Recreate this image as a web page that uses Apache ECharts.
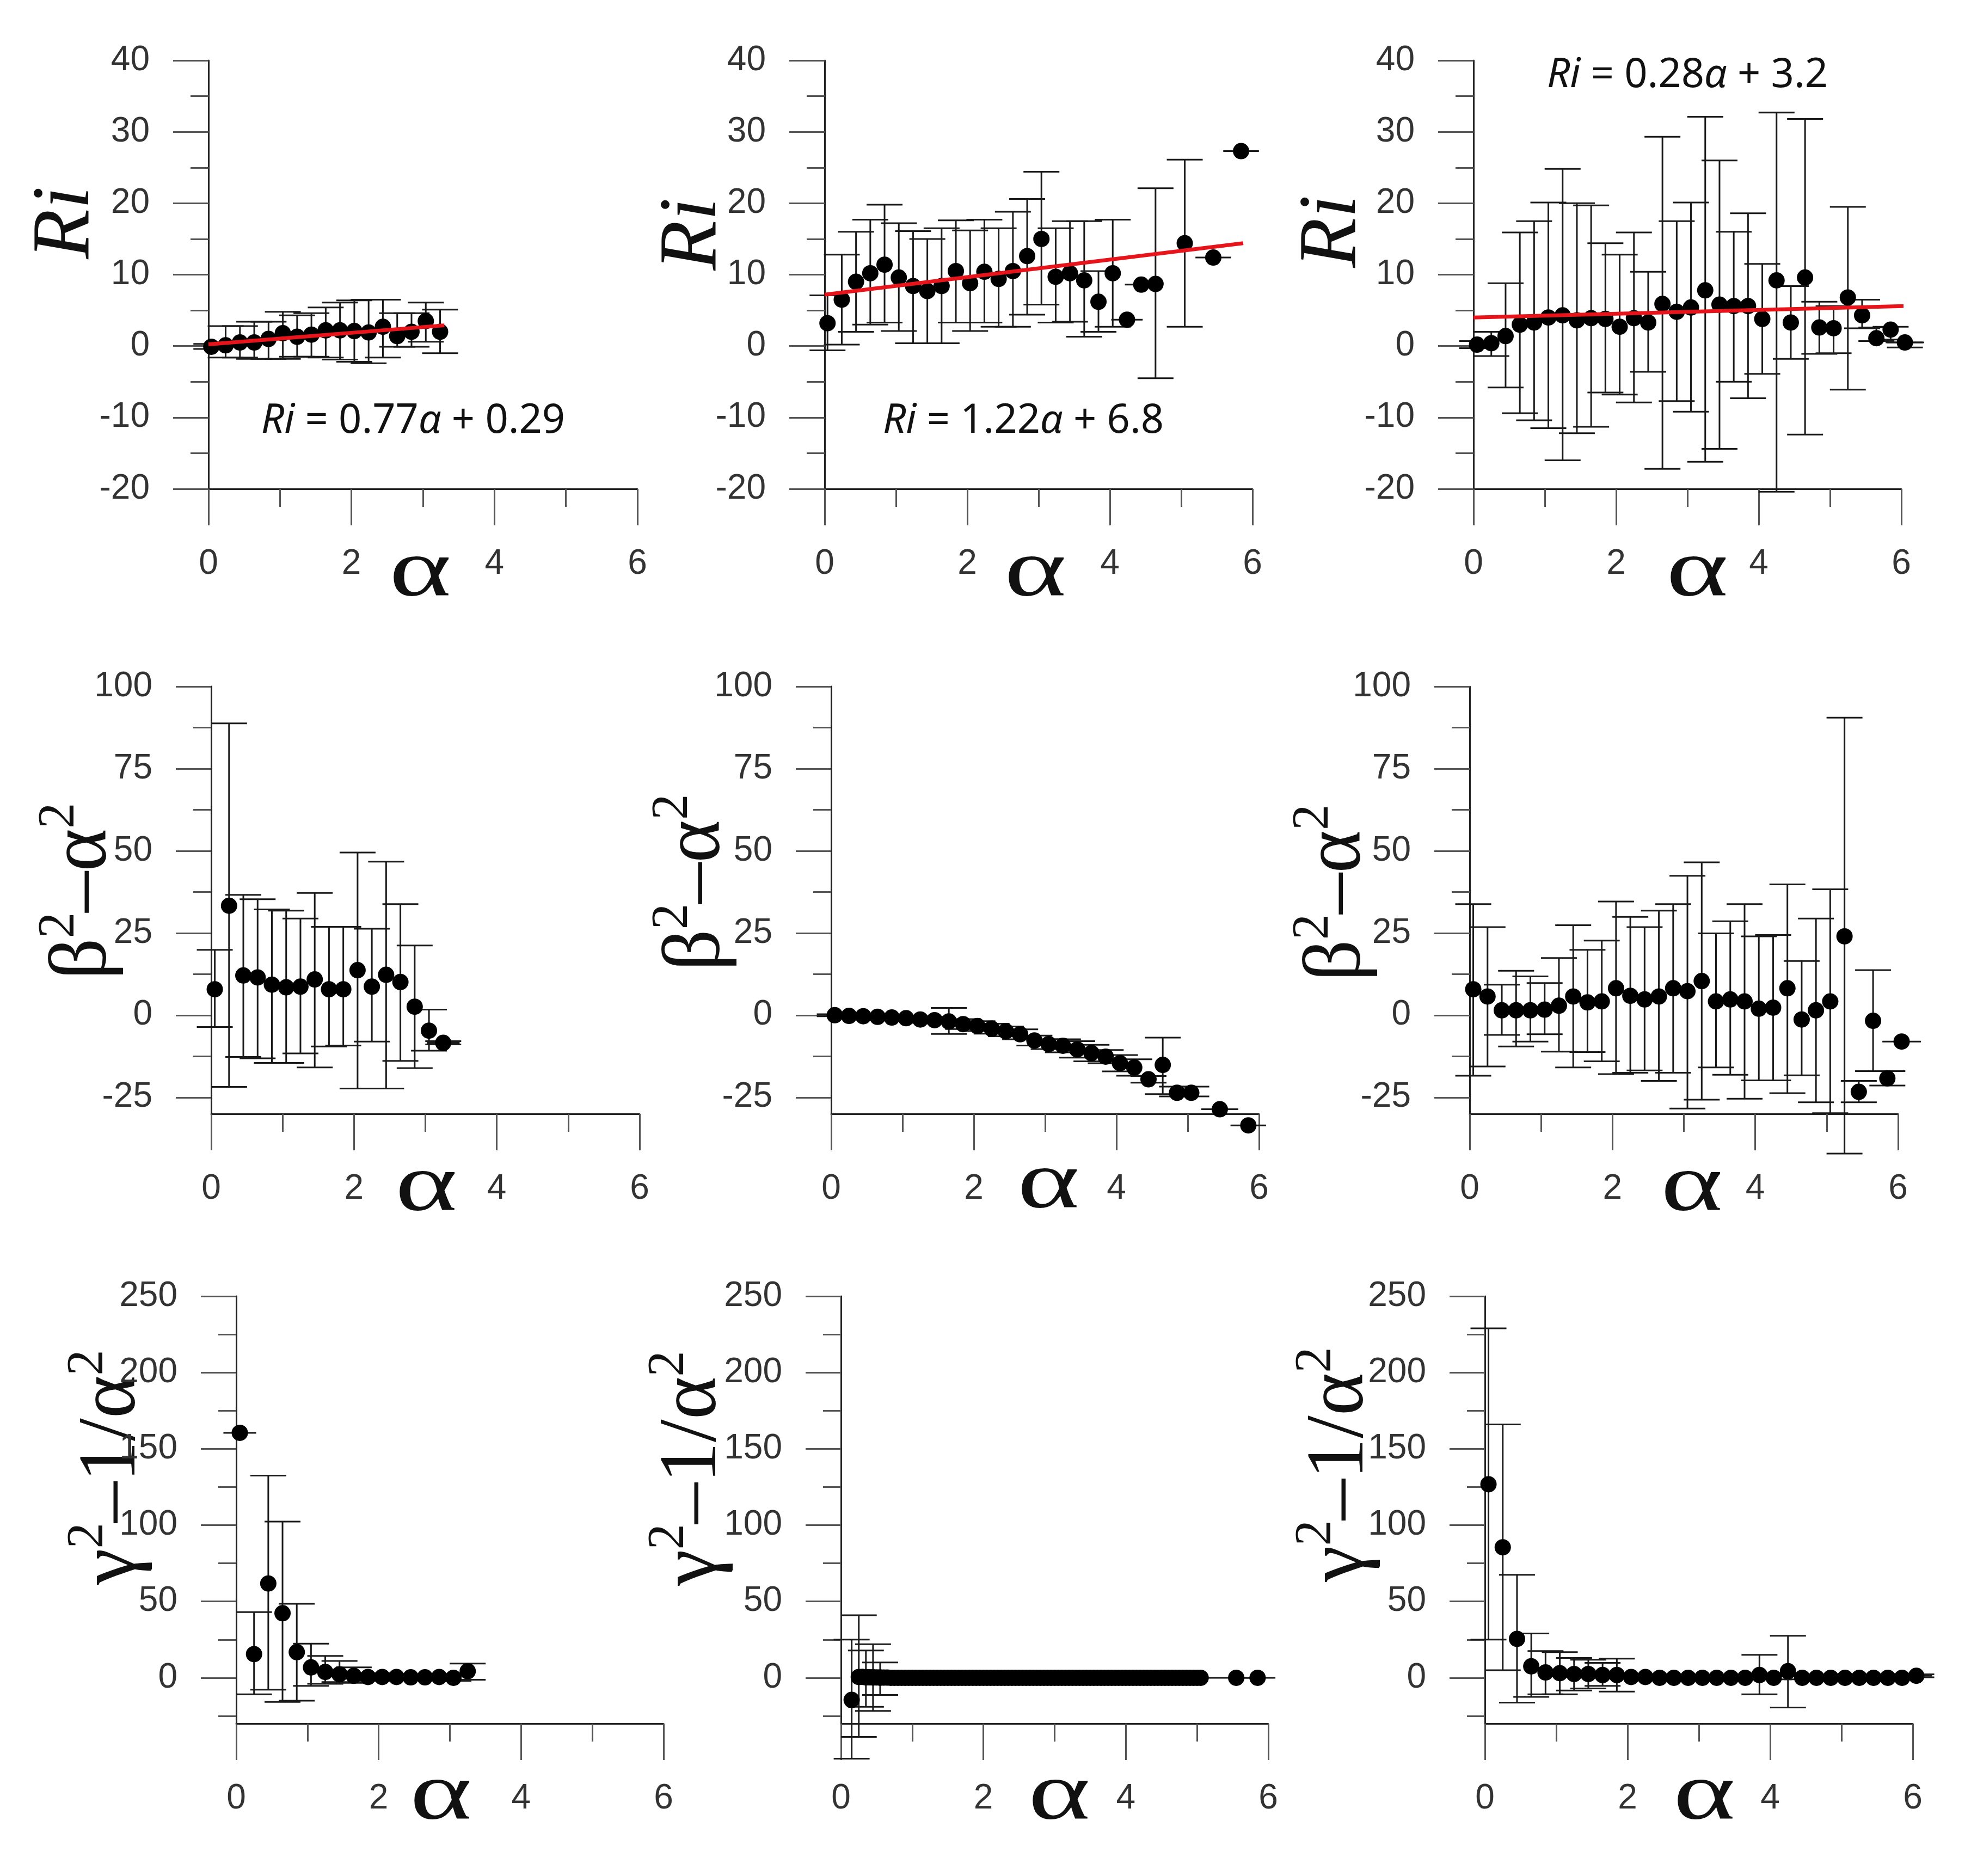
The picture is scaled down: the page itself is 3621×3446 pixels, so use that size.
<!DOCTYPE html>
<html><head><meta charset="utf-8">
<script src="https://cdn.jsdelivr.net/npm/echarts@6/dist/echarts.min.js"></script>
<style>html,body{margin:0;padding:0;background:#fff}#c{width:3621px;height:3446px}</style>
</head><body><div id="c"></div>
<script>
// ---------- tick values ----------
const xMajorTicks = [0, 2, 4, 6];
const row1Major = [-20, -10, 0, 10, 20, 30, 40];
const row1Minor = [-15, -5, 5, 15, 25, 35];
const row2Major = [-25, 0, 25, 50, 75, 100];
const row2Minor = [-12.5, 12.5, 37.5, 62.5, 87.5];
const row3Major = [0, 50, 100, 150, 200, 250];
const row3Minor = [-25, 25, 75, 125, 175, 225];

// ---------- equations ----------
const eqSlope = ['0.77', '1.22', '0.28'];
const eqIntercept = ['0.29', '6.8', '3.2'];

// ---------- row 1 : Ri ----------
const p11X  = [0.04,0.24,0.44,0.64,0.84,1.04,1.24,1.44,1.64,1.84,2.04,2.24,2.44,2.64,2.84,3.04,3.24];
const p11Y  = [-0.1,0.1,0.5,0.5,1.0,1.8,1.3,1.6,2.2,2.2,2.1,1.9,2.7,1.4,2.0,3.5,2.0];
const p11Hi = [0.3,2.8,2.8,3.4,3.4,4.8,4.3,4.6,5.4,6.1,6.4,6.5,6.5,4.6,4.6,6.1,5.1];
const p11Lo = [-0.4,-1.6,-1.6,-1.8,-1.8,-1.8,-1.5,-1.5,-1.6,-1.9,-2.2,-2.4,-1.6,-0.1,-0.1,0.6,-1.0];
const p11Xe = [0,0,0,0,0,0,0,0,0,0,0,0,0,0,0,0,0];
const p11FitX = [0, 3.3];
const p11FitY = [0.25, 2.9];

const p12X  = [0.04,0.24,0.44,0.64,0.84,1.04,1.24,1.44,1.64,1.84,2.04,2.24,2.44,2.64,2.84,3.04,3.24,3.44,3.64,3.84,4.04,4.24,4.44,4.64,5.05,5.45,5.84];
const p12Y  = [3.2,6.5,9.0,10.2,11.4,9.6,8.4,7.7,8.4,10.5,8.8,10.4,9.4,10.5,12.6,15.0,9.7,10.2,9.2,6.2,10.2,3.7,8.6,8.7,14.4,12.4,27.3];
const p12Hi = [7.1,12.8,16.0,17.7,19.8,17.2,16.1,15.0,16.5,17.6,16.2,17.7,16.5,18.8,20.6,24.4,16.5,17.5,17.5,10.5,17.7,3.7,8.6,22.1,26.1,12.4,27.3];
const p12Lo = [-0.6,0.2,2.0,3.0,3.3,2.1,0.4,0.4,0.4,3.3,2.1,3.3,2.7,2.7,4.4,5.8,3.3,3.4,1.3,2.0,2.7,3.7,8.6,-4.5,2.7,12.4,27.3];
const p12Xe = [0,0,0,0,0,0,0,0,0,0,0,0,0,0,0,0,0,0,0,0,0,0.22,0.23,0,0,0.25,0.25];
const p12FitX = [0, 5.87];
const p12FitY = [7.2, 14.4];

const p13X  = [0.05,0.25,0.45,0.65,0.85,1.05,1.25,1.45,1.65,1.85,2.05,2.25,2.45,2.65,2.85,3.05,3.25,3.45,3.65,3.85,4.05,4.25,4.45,4.65,4.85,5.05,5.25,5.45,5.65,5.85,6.05];
const p13Y  = [0.2,0.4,1.4,3.0,3.3,4.0,4.3,3.6,3.9,3.8,2.7,3.9,3.3,5.9,4.8,5.4,7.8,5.8,5.6,5.6,3.8,9.2,3.3,9.6,2.6,2.5,6.8,4.3,1.1,2.3,0.5];
const p13Hi = [0.7,2.0,8.8,15.9,17.5,20.1,24.8,20.0,19.7,14.4,12.8,15.9,10.4,29.3,17.5,20.1,32.1,26.0,16.0,18.6,11.5,32.7,8.4,31.8,6.2,5.6,19.5,6.5,2.6,2.7,0.5];
const p13Lo = [-0.3,-1.4,-5.8,-9.4,-10.4,-11.5,-16.0,-12.2,-11.3,-6.5,-6.8,-7.9,-3.6,-17.2,-7.7,-9.2,-16.2,-14.4,-5.0,-7.3,-3.9,-20.4,-1.8,-12.4,-1.1,-1.0,-6.1,2.5,0.7,0.9,-0.2];
const p13Xe = [0,0,0,0,0,0,0,0,0,0,0,0,0,0,0,0,0,0,0,0,0,0,0,0,0,0,0,0,0,0,0.27];
const p13FitX = [0, 6.05];
const p13FitY = [4.0, 5.6];

// ---------- row 2 : beta^2 - alpha^2 ----------
const p21X  = [0.05,0.25,0.45,0.65,0.85,1.05,1.25,1.45,1.65,1.85,2.05,2.25,2.45,2.65,2.85,3.05,3.25];
const p21Y  = [7.9,33.3,12.1,11.5,9.3,8.5,8.7,10.9,7.9,7.9,13.7,8.7,12.3,10.1,2.6,-4.7,-8.4];
const p21Hi = [19.9,88.8,36.6,35.3,32.2,31.8,29.4,37.2,26.9,26.9,49.5,26.3,46.7,33.8,21.2,1.7,-7.9];
const p21Lo = [-3.6,-21.8,-12.7,-13.1,-14.5,-14.5,-11.6,-15.9,-9.5,-9.2,-22.3,-8.0,-22.3,-13.9,-16.1,-10.8,-8.9];
const p21Xe = [0,0,0,0,0,0,0,0,0,0,0,0,0,0,0,0,0.23];

const p22X  = [0.05,0.25,0.45,0.65,0.85,1.05,1.25,1.45,1.65,1.85,2.05,2.25,2.45,2.65,2.85,3.05,3.25,3.45,3.65,3.85,4.05,4.25,4.45,4.65,4.85,5.05,5.45,5.85];
const p22Y  = [0,-0.2,-0.3,-0.5,-0.7,-0.9,-1.3,-1.5,-1.9,-2.7,-3.3,-4.1,-4.9,-5.8,-7.7,-8.8,-9.3,-10.4,-11.5,-12.6,-14.6,-15.9,-19.5,-15.1,-23.6,-23.6,-28.6,-33.5];
const p22Hi = [0.3,0.1,0,-0.2,-0.4,-0.6,-0.3,-0.5,2.2,-1.2,-1.8,-2.6,-3.4,-4.3,-6.2,-7.3,-7.3,-7.9,-9.0,-10.6,-12.1,-13.4,-18.5,-6.8,-21.7,-21.7,-28.6,-33.5];
const p22Lo = [-0.3,-0.5,-0.6,-0.8,-1.0,-1.2,-2.3,-2.5,-5.7,-4.2,-4.8,-5.6,-6.4,-7.3,-9.2,-10.3,-11.3,-12.9,-14.0,-14.6,-17.1,-18.4,-20.5,-24.0,-24.7,-24.7,-28.6,-33.5];
const p22Xe = [0,0,0,0,0,0,0,0,0,0,0,0,0,0,0,0,0,0,0,0,0,0,0,0,0,0,0.26,0.25];

const p23X  = [0.05,0.25,0.45,0.65,0.85,1.05,1.25,1.45,1.65,1.85,2.05,2.25,2.45,2.65,2.85,3.05,3.25,3.45,3.65,3.85,4.05,4.25,4.45,4.65,4.85,5.05,5.25,5.45,5.65,5.85,6.05];
const p23Y  = [7.9,5.7,1.5,1.5,1.5,1.7,2.9,5.7,3.9,4.2,8.2,5.9,4.8,5.7,8.2,7.3,10.4,4.2,4.8,4.2,2.0,2.3,8.2,-1.3,1.5,4.2,24.0,-23.3,-1.7,-19.2,-8.0];
const p23Hi = [33.8,26.8,9.3,13.5,11.8,9.8,17.4,27.4,19.9,22.7,34.6,29.9,26.8,31.8,33.8,42.4,46.5,24.9,28.6,33.8,24.0,24.4,39.8,16.5,29.4,38.3,90.5,-20.0,13.7,-17.0,-8.0];
const p23Lo = [-18.4,-15.6,-6.0,-9.5,-8.0,-5.8,-11.1,-15.9,-11.2,-14.0,-17.9,-17.5,-16.8,-20.0,-17.5,-28.4,-25.7,-15.9,-18.1,-25.4,-19.8,-19.8,-23.7,-18.3,-26.5,-29.8,-42.1,-26.5,-17.0,-21.4,-8.0];
const p23Xe = [0,0,0,0,0,0,0,0,0,0,0,0,0,0,0,0,0,0,0,0,0,0,0,0,0,0,0,0,0,0,0.27];

// ---------- row 3 : gamma^2 - 1/alpha^2 ----------
const p31X  = [0.05,0.25,0.45,0.65,0.85,1.05,1.25,1.45,1.65,1.85,2.05,2.25,2.45,2.65,2.85,3.05,3.25];
const p31Y  = [160.5,15.5,61.8,42.3,16.8,6.8,3.8,2.3,1.3,0.5,0.5,0.5,0.3,0.3,0.5,0,4.3];
const p31Hi = [160.5,43,132.5,102.3,48.5,22.3,14.3,11,6.8,3,3,2.5,2,2,2.5,2,9.3];
const p31Lo = [160.5,-10.8,-7.8,-15.8,-15,-5.3,-4,-2.8,-3.3,-2,-2,-1.5,-1.5,-1.5,-1.5,-2,-1.3];
const p31Xe = [0.23,0,0,0,0,0,0,0,0,0,0,0,0,0,0,0,0];

const p32X  = [0.15,0.25,0.35,0.45,0.55,5.55,5.85];
const p32Y  = [-14.5,0.5,0.3,0.2,0.1,0,0];
const p32Hi = [25,41,17.9,22,10,0,0];
const p32Lo = [-53,-38.7,-19,-21.7,-11.3,0,0];
const p32Xe = [0,0,0,0,0,0.4,0.25];
const p32BandX = [0.30,0.35,0.40,0.45,0.50,0.55,0.60,0.65,0.70,0.75,0.80,0.85,0.90,0.95,1.00,1.05,1.10,1.15,1.20,1.25,1.30,1.35,1.40,1.45,1.50,1.55,1.60,1.65,1.70,1.75,1.80,1.85,1.90,1.95,2.00,2.05,2.10,2.15,2.20,2.25,2.30,2.35,2.40,2.45,2.50,2.55,2.60,2.65,2.70,2.75,2.80,2.85,2.90,2.95,3.00,3.05,3.10,3.15,3.20,3.25,3.30,3.35,3.40,3.45,3.50,3.55,3.60,3.65,3.70,3.75,3.80,3.85,3.90,3.95,4.00,4.05,4.10,4.15,4.20,4.25,4.30,4.35,4.40,4.45,4.50,4.55,4.60,4.65,4.70,4.75,4.80,4.85,4.90,4.95,5.00,5.05];
const p32BandY = [0.6,0.4,0.3,0.2,0.2,0.1,0.1,0.1,0,0,0,0,0,0,0,0,0,0,0,0,0,0,0,0,0,0,0,0,0,0,0,0,0,0,0,0,0,0,0,0,0,0,0,0,0,0,0,0,0,0,0,0,0,0,0,0,0,0,0,0,0,0,0,0,0,0,0,0,0,0,0,0,0,0,0,0,0,0,0,0,0,0,0,0,0,0,0,0,0,0,0,0,0,0,0,0];

const p33X  = [0.05,0.25,0.45,0.65,0.85,1.05,1.25,1.45,1.65,1.85,2.05,2.25,2.45,2.65,2.85,3.05,3.25,3.45,3.65,3.85,4.05,4.25,4.45,4.65,4.85,5.05,5.25,5.45,5.65,5.85,6.05];
const p33Y  = [126.8,85.5,25.5,7.5,3.5,3,2.5,2.5,1.8,1.8,0.5,0.5,0,0,0,0,0,0,0,1.8,0,4.3,0,0,0,0,0,0,0,0,1.3];
const p33Hi = [229,166,67.5,29,17.5,16.8,13,11.8,9.8,12.5,1.5,1.5,1,1,1,1,1,1,1,15,1,27.5,1,1,1,1,1,1,1,1,2.3];
const p33Lo = [25,5,-16.3,-12.5,-10.8,-10.8,-8.3,-7,-5.3,-9,-0.5,-0.5,-1,-1,-1,-1,-1,-1,-1,-10.8,-1,-19.5,-1,-1,-1,-1,-1,-1,-1,-1,0.3];
const p33Xe = [0,0,0,0,0,0,0,0,0,0,0,0,0,0,0,0,0,0,0,0,0,0,0,0,0,0,0,0,0,0,0.22];

// ---------- layout ----------
const AX = '#222', TK = '#555', LBL = '#333', ERR = '#1a1a1a';
const panels = [
  {box:[383,111,788,787],  ymin:-20, ymax:40,  major:row1Major, minor:row1Minor, x:p11X, y:p11Y, hi:p11Hi, lo:p11Lo, xe:p11Xe, fitX:p11FitX, fitY:p11FitY},
  {box:[1515,111,786,787], ymin:-20, ymax:40,  major:row1Major, minor:row1Minor, x:p12X, y:p12Y, hi:p12Hi, lo:p12Lo, xe:p12Xe, fitX:p12FitX, fitY:p12FitY},
  {box:[2707,111,786,787], ymin:-20, ymax:40,  major:row1Major, minor:row1Minor, x:p13X, y:p13Y, hi:p13Hi, lo:p13Lo, xe:p13Xe, fitX:p13FitX, fitY:p13FitY},
  {box:[388,1261,787,785], ymin:-30, ymax:100, major:row2Major, minor:row2Minor, x:p21X, y:p21Y, hi:p21Hi, lo:p21Lo, xe:p21Xe},
  {box:[1527,1261,786,785],ymin:-30, ymax:100, major:row2Major, minor:row2Minor, x:p22X, y:p22Y, hi:p22Hi, lo:p22Lo, xe:p22Xe},
  {box:[2700,1261,787,785],ymin:-30, ymax:100, major:row2Major, minor:row2Minor, x:p23X, y:p23Y, hi:p23Hi, lo:p23Lo, xe:p23Xe},
  {box:[434,2381,785,785], ymin:-30, ymax:250, major:row3Major, minor:row3Minor, x:p31X, y:p31Y, hi:p31Hi, lo:p31Lo, xe:p31Xe},
  {box:[1545,2381,785,785],ymin:-30, ymax:250, major:row3Major, minor:row3Minor, x:p32X, y:p32Y, hi:p32Hi, lo:p32Lo, xe:p32Xe, bandX:p32BandX, bandY:p32BandY},
  {box:[2728,2381,786,785],ymin:-30, ymax:250, major:row3Major, minor:row3Minor, x:p33X, y:p33Y, hi:p33Hi, lo:p33Lo, xe:p33Xe}
];

const CAP = 33, DOT = 30;
function renderErr(params, api) {
  const x = api.value(0), y = api.value(1), lo = api.value(2), hi = api.value(3), xe = api.value(4);
  const st = {stroke: ERR, lineWidth: 3};
  const ch = [];
  if (!(hi === y && lo === y)) {
    const a = api.coord([x, hi]), b = api.coord([x, lo]);
    ch.push({type:'line', shape:{x1:a[0], y1:a[1], x2:b[0], y2:b[1]}, style:st});
    ch.push({type:'line', shape:{x1:a[0]-CAP, y1:a[1], x2:a[0]+CAP, y2:a[1]}, style:st});
    ch.push({type:'line', shape:{x1:b[0]-CAP, y1:b[1], x2:b[0]+CAP, y2:b[1]}, style:st});
  }
  if (xe > 0) {
    const c = api.coord([x - xe, y]), d = api.coord([x + xe, y]);
    ch.push({type:'line', shape:{x1:c[0], y1:c[1], x2:d[0], y2:d[1]}, style:st});
  }
  return {type:'group', children: ch};
}

const grids = [], xAxes = [], yAxes = [], series = [];
const lblStyle = {fontSize:64, fontFamily:'"Liberation Sans", Arial, sans-serif', color:LBL};
panels.forEach((p, i) => {
  const g = {left:p.box[0], top:p.box[1], width:p.box[2], height:p.box[3], containLabel:false, outerBoundsMode:'none'};
  grids.push(Object.assign({}, g), Object.assign({}, g));
  xAxes.push({
    type:'value', gridIndex:2*i, min:0, max:6, interval:2,
    axisLine:{onZero:false, lineStyle:{color:AX, width:3}},
    axisTick:{length:67, lineStyle:{color:TK, width:3}},
    minorTick:{show:true, splitNumber:2, length:33, lineStyle:{color:TK, width:3}},
    axisLabel:Object.assign({margin:106, showMinLabel:true, showMaxLabel:true}, lblStyle),
    splitLine:{show:false}, minorSplitLine:{show:false}
  });
  xAxes.push({type:'value', gridIndex:2*i+1, min:0, max:6, show:false});
  yAxes.push({
    type:'value', gridIndex:2*i, min:p.ymin, max:p.ymax,
    axisLine:{show:true, onZero:false, lineStyle:{color:AX, width:3}},
    axisTick:{show:true, customValues:p.major, length:65, lineStyle:{color:TK, width:3}},
    axisLabel:Object.assign({customValues:p.major, margin:108}, lblStyle),
    splitLine:{show:false}
  });
  yAxes.push({
    type:'value', gridIndex:2*i+1, min:p.ymin, max:p.ymax,
    axisLine:{show:false, onZero:false},
    axisTick:{show:true, customValues:p.minor, length:33, lineStyle:{color:TK, width:3}},
    axisLabel:{show:false}, splitLine:{show:false}
  });
  series.push({
    type:'custom', xAxisIndex:2*i, yAxisIndex:2*i, clip:false, z:2, silent:true,
    renderItem:renderErr, encode:{x:0, y:1},
    data:p.x.map((v, k) => [v, p.y[k], p.lo[k], p.hi[k], p.xe[k]])
  });
  if (p.bandX) {
    series.push({
      type:'scatter', xAxisIndex:2*i, yAxisIndex:2*i, symbolSize:DOT, z:3, silent:true,
      itemStyle:{color:'#000', opacity:1}, clip:false,
      data:p.bandX.map((v, k) => [v, p.bandY[k]])
    });
  }
  series.push({
    type:'scatter', xAxisIndex:2*i, yAxisIndex:2*i, symbolSize:DOT, z:4, silent:true,
    itemStyle:{color:'#000', opacity:1}, clip:false,
    data:p.x.map((v, k) => [v, p.y[k]])
  });
  if (p.fitX) {
    series.push({
      type:'line', xAxisIndex:2*i, yAxisIndex:2*i, symbol:'none', z:5, silent:true,
      lineStyle:{color:'#e8141b', width:7}, data:p.fitX.map((v, k) => [v, p.fitY[k]])
    });
  }
});

// ---------- text elements ----------
const mctx = document.createElement('canvas').getContext('2d');
function tw(t, font) { mctx.font = font; return mctx.measureText(t).width; }
function tokenLabel(cx, cy, rot, tokens, sx) {
  let total = 0;
  tokens.forEach(k => { k.w = tw(k.t, k.font); total += k.w; });
  let x = -total / 2;
  const children = tokens.map(k => {
    const el = {type:'text', x:x, y:k.dy || 0, style:{text:k.t, font:k.font, fill:'#111',
      textAlign:'left', textVerticalAlign:'middle', align:'left', verticalAlign:'middle'}};
    x += k.w;
    return el;
  });
  return {type:'group', x:cx, y:cy, rotation:rot, scaleX:sx || 1, children:children};
}
const SERIF = '"Liberation Serif", "Times New Roman", serif';
const big = '150px ' + SERIF, sup = '95px ' + SERIF;
const graphics = [];
// Ri titles
[[123,409],[1275,430],[2450,425]].forEach(c => {
  graphics.push(tokenLabel(c[0], c[1], Math.PI/2, [{t:'Ri', font:'italic ' + big}]));
});
// beta^2 - alpha^2
[[155,1637],[1282,1621],[2459,1640]].forEach(c => {
  graphics.push(tokenLabel(c[0], c[1], Math.PI/2, [
    {t:'β', font:big}, {t:'2', font:sup, dy:-45}, {t:'–α', font:big}, {t:'2', font:sup, dy:-45}]));
});
// gamma^2 - 1/alpha^2
[[208,2695],[1275,2697],[2464,2690]].forEach(c => {
  graphics.push(tokenLabel(c[0], c[1], Math.PI/2, [
    {t:'γ', font:big}, {t:'2', font:sup, dy:-45}, {t:'–1/α', font:big}, {t:'2', font:sup, dy:-45}]));
});
// alpha under x axes
[[772,1055],[1902,1055],[3118,1055],[783,2184],[1926,2179],[3108,2184],[810,3302],[1946,3302],[3131,3302]].forEach(c => {
  graphics.push(tokenLabel(c[0], c[1], 0, [{t:'α', font:'150px ' + SERIF}], 1.45));
});
// equations
const EQF = '"Noto Sans", "Open Sans", sans-serif';
const EQS = 74;
[[759,774],[1880,774],[3100,139]].forEach((c, i) => {
  graphics.push(tokenLabel(c[0], c[1], 0, [
    {t:'Ri', font:'italic ' + EQS + 'px ' + EQF}, {t:' = ' + eqSlope[i], font:EQS + 'px ' + EQF},
    {t:'α', font:'italic ' + EQS + 'px ' + EQF}, {t:' + ' + eqIntercept[i], font:EQS + 'px ' + EQF}]));
});

const chart = echarts.init(document.getElementById('c'), null, {renderer:'canvas', width:3621, height:3446});
chart.setOption({
  backgroundColor:'#fff', animation:false,
  grid:grids, xAxis:xAxes, yAxis:yAxes, series:series, graphic:graphics
});
</script></body></html>
